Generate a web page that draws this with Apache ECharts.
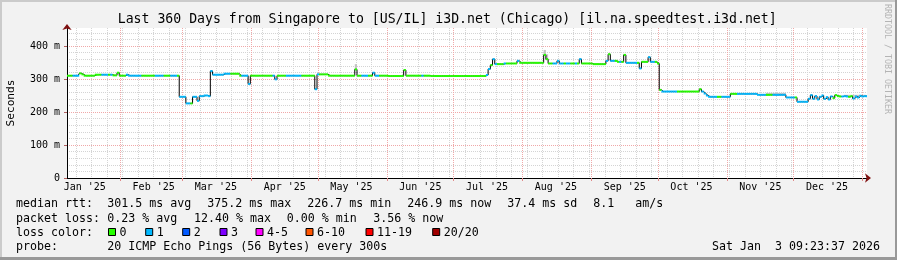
<!DOCTYPE html>
<html><head><meta charset="utf-8">
<script src="https://cdn.jsdelivr.net/npm/echarts@6/dist/echarts.min.js"></script>
<style>html,body{margin:0;padding:0;background:#f2f2f2}#c{width:897px;height:260px}</style>
</head><body><div id="c"></div>
<script>
// ---- data ----
const startDay = [2025, 0, 8];          // first category (UTC date)
const dayCount = 361;
const monthNames = ['Jan','Feb','Mar','Apr','May','Jun','Jul','Aug','Sep','Oct','Nov','Dec'];
const yMajorTicks = [0, 100, 200, 300, 400];
const median = [
310,310,310,310,310,310,317,314,310,310,
310,310,310,313,313,313,313,313,313,313,
313,311,311,319,310,310,310,313,310,310,
310,310,310,310,310,310,310,310,310,310,
310,310,310,310,310,310,310,310,310,310,
310,246,246,246,226,226,226,246,246,234,
248,248,250,250,248,324,313,313,313,313,
313,316,316,316,316,316,316,316,310,310,
310,310,285,310,310,310,310,310,310,310,
310,310,310,310,299,310,310,310,310,310,
310,310,310,310,310,310,310,310,310,310,
310,310,269,314,314,314,314,314,310,310,
310,310,310,310,310,310,310,310,310,310,
329,310,310,310,310,310,310,310,319,310,
310,310,310,310,310,309,309,309,309,309,
309,309,327,310,310,310,310,310,310,310,
310,310,310,310,309,309,309,309,309,309,
309,309,309,309,309,309,309,309,309,309,
309,309,309,309,309,309,309,309,309,312,
330,342,360,345,345,345,345,347,347,347,
347,347,347,355,349,349,349,349,349,349,
349,349,349,349,349,373,360,347,347,347,
347,355,347,347,347,347,347,347,347,347,
347,360,347,347,347,347,347,345,345,345,
345,345,345,355,375,355,355,355,352,352,
352,373,349,349,349,349,349,349,332,352,
352,352,366,352,352,352,347,267,262,262,
262,262,262,262,262,262,262,262,262,262,
262,262,262,262,262,269,262,256,250,246,
246,246,246,246,246,246,246,246,246,255,
255,255,255,255,255,255,255,255,255,255,
255,252,252,252,252,252,252,252,252,252,
252,252,252,252,244,244,244,244,244,231,
231,231,231,231,240,251,240,248,238,246,
250,240,245,238,247,242,251,248,247,247,
248,247,246,248,241,247,244,249,247,248,248
];
const loss = [
0,0,0,1,1,1,0,0,0,0,
0,0,0,0,0,0,1,1,1,0,
1,0,0,0,0,0,0,1,1,1,
1,1,1,1,0,0,0,0,0,0,
1,1,1,1,0,0,0,1,1,1,
0,1,1,1,1,1,0,1,1,1,
1,1,1,1,1,1,1,1,1,1,
1,1,1,1,0,0,0,0,0,1,
1,1,1,0,0,0,0,0,0,0,
0,0,0,1,1,0,0,0,0,1,
1,1,1,1,1,1,0,0,0,0,
0,0,1,1,0,0,0,0,0,0,
0,0,0,0,0,0,0,0,0,0,
0,0,0,1,1,1,0,0,1,1,
1,0,0,0,0,0,0,0,0,0,
0,0,0,0,0,0,0,0,0,0,
1,0,0,0,0,0,0,0,0,0,
0,0,0,0,0,0,0,0,0,0,
0,0,0,0,0,0,0,0,0,1,
1,0,1,1,0,0,0,1,0,0,
0,0,0,1,0,0,0,0,0,0,
0,0,0,0,0,0,0,0,0,1,
1,1,1,1,0,1,1,0,0,1,
0,1,0,0,0,0,0,0,0,0,
0,0,0,1,0,1,1,0,0,1,
0,0,1,1,1,1,1,0,1,0,
0,0,1,1,1,0,0,0,1,1,
1,1,1,1,1,0,0,0,0,0,
0,0,0,0,0,0,1,1,1,1,
1,1,1,0,0,1,1,1,1,0,
0,0,1,1,1,1,1,1,1,1,
1,1,1,1,1,0,0,0,1,1,
1,1,1,1,1,1,1,1,0,1,
1,1,1,1,1,1,1,1,1,1,
1,1,1,1,1,0,0,0,0,1,
1,1,0,0,1,1,1,1,1,1,1
];
const smokeDay = [130, 215, 216, 315, 316, 317, 318, 319, 320, 321, 322, 323, 350, 351, 352, 353, 354, 355, 356, 357, 358, 359];
const smokeTop = [345, 388, 375, 258, 258, 258, 258, 258, 258, 258, 258, 258, 252, 252, 252, 252, 252, 252, 252, 252, 252, 252];
const lossColors = ['#26ff00','#00b8ff','#0059ff','#7e00ff','#ff00ff','#ff5500','#ff0000','#a10000'];
const lossLabels = ['0','1','2','3','4-5','6-10','11-19','20/20'];
const titleText = 'Last 360 Days from Singapore to [US/IL] i3D.net (Chicago) [il.na.speedtest.i3d.net]';
const rttRow = [['median rtt:',16],['301.5 ms avg',107.3],['375.2 ms max',207.3],['226.7 ms min',307.3],['246.9 ms now',407.3],['37.4 ms sd',507.3],['8.1   am/s',593.3]];
const lossRow = [['packet loss:',16],['0.23 % avg',107.3],['12.40 % max',194],['0.00 % min',286.7],['3.56 % now',373.3]];
const colorKeyX = [108.5,145.7,182.7,220,256,306,366,432.7];
const probeText = '20 ICMP Echo Pings (56 Bytes) every 300s';
const dateText = 'Sat Jan  3 09:23:37 2026';

// ---- build ----
const cats = [];
for (let i = 0; i < dayCount; i++) {
  cats.push(new Date(Date.UTC(startDay[0], startDay[1], startDay[2] + i)).toISOString().slice(0, 10));
}
const dom = (s) => +s.slice(8, 10);
const isSunday = (s) => new Date(s + 'T00:00:00Z').getUTCDay() === 0;
const MONO = '"DejaVu Sans Mono", monospace';
const F = (px) => px + 'px ' + MONO;

const graphic = [];
// frame
graphic.push({type:'rect', shape:{x:0,y:0,width:897,height:2}, style:{fill:'#cbcbcb'}, silent:true});
graphic.push({type:'rect', shape:{x:0,y:0,width:2,height:260}, style:{fill:'#cbcbcb'}, silent:true});
graphic.push({type:'rect', shape:{x:0,y:257,width:897,height:3}, style:{fill:'#999999'}, silent:true});
graphic.push({type:'rect', shape:{x:895,y:0,width:2,height:260}, style:{fill:'#999999'}, silent:true});
graphic.push({type:'text', x:447.2, y:19.5, style:{text:titleText, font:F(13.2), fill:'#000', align:'center', verticalAlign:'middle'}});
graphic.push({type:'text', x:11, y:103, rotation:Math.PI/2, style:{text:'Seconds', font:F(11.2), fill:'#000', align:'center', verticalAlign:'middle'}});
graphic.push({type:'text', x:887.5, y:59, rotation:-Math.PI/2, style:{text:'RRDTOOL / TOBI OETIKER', font:F(8.3), fill:'#b4b4b4', align:'center', verticalAlign:'middle'}});
rttRow.forEach(([t, x]) => graphic.push({type:'text', x, y:204.3, style:{text:t, font:F(11.63), fill:'#000', verticalAlign:'middle'}}));
lossRow.forEach(([t, x]) => graphic.push({type:'text', x, y:218.5, style:{text:t, font:F(11.63), fill:'#000', verticalAlign:'middle'}}));
graphic.push({type:'text', x:16, y:232.5, style:{text:'loss color:', font:F(11.63), fill:'#000', verticalAlign:'middle'}});
colorKeyX.forEach((x, k) => {
  graphic.push({type:'rect', shape:{x:x, y:228.5, width:7, height:7}, style:{fill:lossColors[k], stroke:'#000', lineWidth:1}});
  graphic.push({type:'text', x:x + 11, y:232.5, style:{text:lossLabels[k], font:F(11.63), fill:'#000', verticalAlign:'middle'}});
});
graphic.push({type:'text', x:16, y:246.5, style:{text:'probe:', font:F(11.63), fill:'#000', verticalAlign:'middle'}});
graphic.push({type:'text', x:107.3, y:246.5, style:{text:probeText, font:F(11.63), fill:'#000', verticalAlign:'middle'}});
graphic.push({type:'text', x:880, y:246.5, style:{text:dateText, font:F(11.63), fill:'#000', align:'right', verticalAlign:'middle'}});

const chart = echarts.init(document.getElementById('c'), null, {renderer:'canvas'});
const YMAX = 454.5;
chart.setOption({
  backgroundColor: '#f2f2f2',
  animation: false,
  grid: {left:67, right:30, top:28, height:150, show:true, backgroundColor:'#ffffff', borderWidth:0},
  xAxis: [
    { type:'category', data:cats, boundaryGap:false, position:'bottom', z:0,
      axisLine:{show:true, lineStyle:{color:'#000', width:1}},
      axisTick:{show:false},
      axisLabel:{interval:(i, v) => dom(v) === 16, margin:4, fontFamily:MONO, fontSize:10, color:'#000',
        formatter:(v) => monthNames[+v.slice(5,7) - 1] + " '" + v.slice(2,4)},
      splitLine:{show:true, interval:(i, v) => isSunday(v), lineStyle:{color:'#d4d4d4', type:'dotted', width:1}} },
    { type:'category', data:cats, boundaryGap:false, position:'bottom', z:1,
      axisLine:{show:true, symbol:['none','arrow'], symbolSize:[7,6], symbolOffset:[0,4], lineStyle:{color:'#7f1010', width:0}},
      axisTick:{show:true, interval:(i, v) => dom(v) === 1, length:3, lineStyle:{color:'#e08a8a'}},
      axisLabel:{show:false},
      splitLine:{show:true, interval:(i, v) => dom(v) === 1, lineStyle:{color:'#f0a8a8', type:'dotted', width:1}} }
  ],
  yAxis: [
    { type:'value', min:0, max:YMAX, interval:20, position:'left', z:0,
      axisLine:{show:false}, axisTick:{show:false}, axisLabel:{show:false},
      splitLine:{show:true, showMaxLine:false, lineStyle:{color:'#d4d4d4', type:'dotted', width:1}} },
    { type:'value', min:0, max:YMAX, interval:100, position:'left', z:1,
      axisLine:{show:true, lineStyle:{color:'#000', width:1}},
      axisTick:{show:true, length:3, lineStyle:{color:'#b06060'}},
      axisLabel:{showMaxLabel:false, margin:7, fontFamily:MONO, fontSize:10, color:'#000',
        formatter:(v) => v === 0 ? '0' : v + ' m'},
      splitLine:{show:true, showMaxLine:false, showMinLine:false, lineStyle:{color:'#f0a8a8', type:'dotted', width:1}} },
    { type:'value', min:0, max:YMAX, position:'left', z:2, show:true,
      axisLine:{show:true, symbol:['none','arrow'], symbolSize:[7,6], symbolOffset:[0,4], lineStyle:{color:'#7f1010', width:0}},
      axisTick:{show:false}, axisLabel:{show:false}, splitLine:{show:false} }
  ],
  series: [
    { type:'custom', xAxisIndex:0, yAxisIndex:1, z:2, clip:true,
      data: smokeDay.map((d, k) => [d, smokeTop[k], median[d]]),
      renderItem: (params, api) => {
        const i = api.value(0);
        const p1 = api.coord([i, api.value(1)]);
        const p2 = api.coord([i, api.value(2)]);
        const w = api.size([1, 0])[0];
        return {type:'rect', shape:{x:p1[0] - w/2, y:p1[1], width:w, height:p2[1] - p1[1]}, style:{fill:'#c4c4c4'}};
      } },
    { type:'line', xAxisIndex:0, yAxisIndex:1, z:3, data:median, step:'middle', symbol:'none',
      lineStyle:{color:'#000', width:1}, clip:true },
    { type:'custom', xAxisIndex:0, yAxisIndex:1, z:4, clip:true,
      data: median.map((v, i) => [i, v, loss[i]]),
      encode:{x:0, y:1},
      renderItem: (params, api) => {
        const i = api.value(0);
        const p = api.coord([i, api.value(1)]);
        const w = api.size([1, 0])[0];
        return {type:'rect', shape:{x:p[0] - w/2, y:p[1] - 1, width:w, height:2}, style:{fill:lossColors[api.value(2)]}};
      } }
  ],
  graphic: graphic
});
</script></body></html>
